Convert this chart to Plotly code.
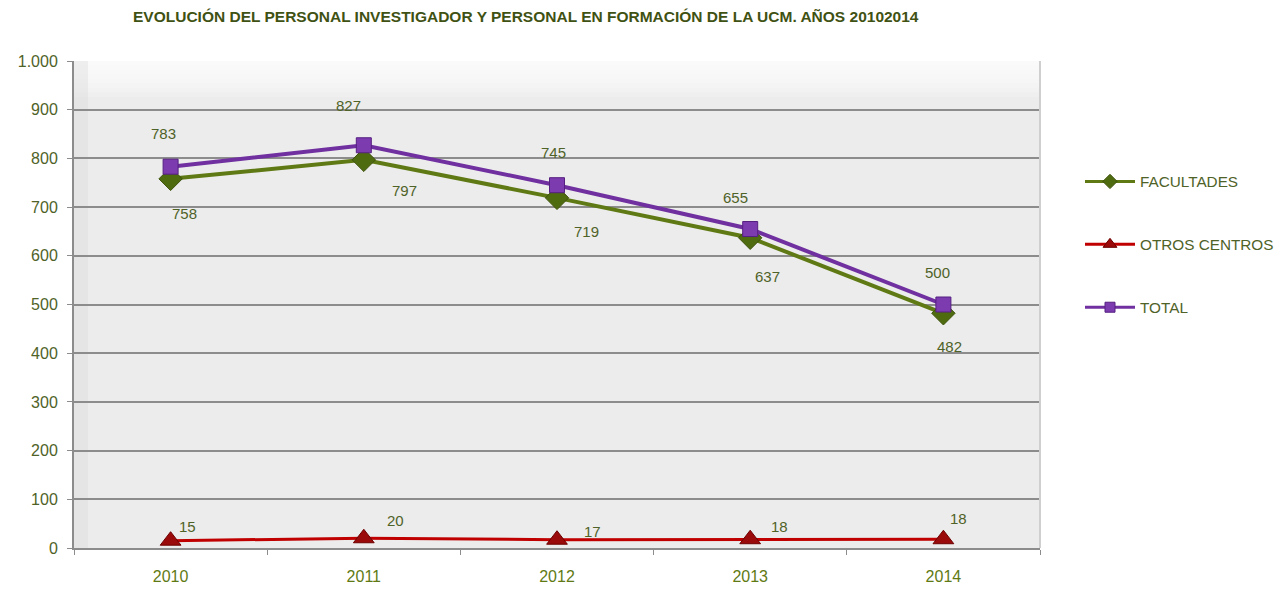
import plotly.graph_objects as go

years = ["2010", "2011", "2012", "2013", "2014"]
facultades = [758, 797, 719, 637, 482]
otros_centros = [15, 20, 17, 18, 18]
total = [783, 827, 745, 655, 500]

TXT = "#4f6228"
font_family = "Liberation Sans, Arial, sans-serif"

series_styles = [
    ("FACULTADES", facultades, dict(color="#5f7a14", width=4),
     dict(symbol="diamond", size=18, color="#4f6b10", line=dict(color="#3d520c", width=1)), 11),
    ("OTROS CENTROS", otros_centros, dict(color="#c00000", width=3),
     dict(symbol="triangle-up", size=18, color="#9b0a0a", line=dict(color="#6e0000", width=1)), 12),
    ("TOTAL", total, dict(color="#7030a0", width=4),
     dict(symbol="square", size=15, color="#7d3bb0", line=dict(color="#552080", width=1)), 10),
]

fig = go.Figure()
for name, vals, ln, mk, _ in series_styles:
    fig.add_trace(go.Scatter(x=years, y=vals, name=name, mode="lines+markers",
                             line=ln, marker=mk, showlegend=False))
# legend entries with smaller markers
for k, (name, vals, ln, mk, lsize) in enumerate(series_styles):
    mk2 = dict(mk)
    mk2["size"] = lsize
    ln2 = dict(ln)
    ln2["width"] = 3
    fig.add_trace(go.Scatter(x=[None], y=[None], name=name, mode="lines+markers",
                             line=ln2, marker=mk2, legendgroup="g%d" % k))

# data labels
fac_shift = [(14, -35), (41, -31), (29, -34), (17, -39), (6, -33)]
tot_shift = [(-7, 33), (-15, 40), (-4, 33), (-15, 32), (-6, 32)]
otr_shift = [(17, 14), (32, 18), (35, 8), (29, 13), (15, 21)]
for series, shifts in ((facultades, fac_shift), (total, tot_shift), (otros_centros, otr_shift)):
    for i, (yv, (dx, dy)) in enumerate(zip(series, shifts)):
        fig.add_annotation(x=i, y=yv, text=str(yv), showarrow=False,
                           xshift=dx, yshift=dy,
                           font=dict(family=font_family, size=15, color=TXT))

# bevel-like shading of the plot area
shapes = []
for j in range(8):
    shapes.append(dict(type="rect", xref="paper", yref="paper", layer="below",
                       x0=0, x1=1, y0=1 - (j + 1) * 4.5 / 487, y1=1,
                       fillcolor="white", opacity=0.18, line=dict(width=0)))
shapes.append(dict(type="rect", xref="paper", yref="paper", layer="below",
                   x0=0, x1=14 / 966, y0=0, y1=1, fillcolor="#dcdcdc", opacity=0.4,
                   line=dict(width=0)))
shapes.append(dict(type="line", xref="paper", yref="paper", layer="above",
                   x0=1, x1=1, y0=0, y1=1, line=dict(color="#cfcfcf", width=2)))

fig.update_layout(
    width=1283, height=591,
    margin=dict(l=66, r=251, t=53, b=51, autoexpand=False),
    paper_bgcolor="white",
    plot_bgcolor="#ececec",
    separators=",.",
    shapes=shapes,
    font=dict(family=font_family, size=15, color=TXT),
    title=dict(
        text="<b>EVOLUCIÓN DEL PERSONAL INVESTIGADOR Y PERSONAL EN FORMACIÓN DE LA UCM. AÑOS 20102014</b>",
        x=125 / 1283, xanchor="left", xref="container",
        y=1 - 9 / 591, yanchor="middle", yref="container",
        font=dict(family=font_family, size=15.5, color="#3f5213"),
    ),
    xaxis=dict(
        type="category", range=[-0.5, 4.5], tickson="boundaries", ticks="outside", ticklen=5,
        tickcolor="#8c8c8c", showgrid=False, showline=True, linecolor="#8c8c8c",
        linewidth=2, ticklabelstandoff=13, tickfont=dict(size=16, color="#5f7a14"),
        zeroline=False, tickangle=0,
    ),
    yaxis=dict(
        range=[0, 1000], dtick=100, tickformat=",d", ticks="outside", ticklen=5,
        tickcolor="#8c8c8c", showgrid=True, gridcolor="#8c8c8c", gridwidth=2,
        showline=True, linecolor="#8c8c8c", linewidth=2, zeroline=False,
        tickfont=dict(size=16, color=TXT), ticklabelstandoff=6,
    ),
    legend=dict(
        x=1072 / 1283, xref="container", xanchor="left",
        y=1 - 157 / 591, yref="container", yanchor="top",
        tracegroupgap=40, font=dict(size=15.3, color=TXT),
        bgcolor="rgba(0,0,0,0)", itemwidth=50,
    ),
)

fig.write_html("out.html")
